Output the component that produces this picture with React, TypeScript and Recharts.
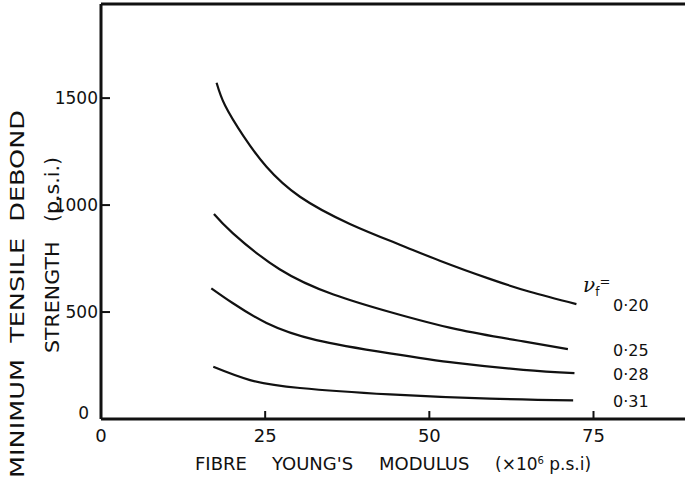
import React from 'react';
import { LineChart, Line, XAxis, YAxis, ReferenceLine } from 'recharts';

// Minimum tensile debond strength vs fibre Young's modulus, one curve per volume fraction
const xTicks = [0, 25, 50, 75];
const yTicks = [0, 500, 1000, 1500];
const vfLabels = ['0·20', '0·25', '0·28', '0·31'];

const vf20X = [17.6, 18.9, 21.7, 25.2, 30.3, 37.9, 45.5, 51.6, 59.2, 65.3, 72.4];
const vf20Y = [1572, 1465, 1322, 1179, 1039, 912, 815, 740, 655, 595, 537];

const vf25X = [17.2, 20.1, 27.2, 35.4, 44.0, 54.1, 64.3, 71.1];
const vf25Y = [958, 868, 700, 582, 500, 420, 363, 327];

const vf28X = [16.8, 20.1, 25.2, 32.8, 44.0, 54.1, 64.3, 72.1];
const vf28Y = [611, 541, 449, 369, 307, 262, 230, 214];

const vf31X = [17.1, 22.7, 30.3, 44.0, 59.2, 71.9];
const vf31Y = [244, 182, 145, 115, 95, 87];

const zip = (xs: number[], ys: number[]) => xs.map((x, i) => ({ x, y: ys[i] }));
const series = [zip(vf20X, vf20Y), zip(vf25X, vf25Y), zip(vf28X, vf28Y), zip(vf31X, vf31Y)];

const FONT = '"DejaVu Sans", sans-serif';
const INK = '#111';

const XTick = ({ x, y, payload }: any) => (
  <g>
    <text x={x} y={y + 10} dy="0.71em" textAnchor="middle" fontFamily={FONT} fontSize={18} fill={INK}>
      {payload.value}
    </text>
    {payload.value !== 0 && <line x1={x} x2={x} y1={y} y2={y - 8} stroke={INK} strokeWidth={2} />}
  </g>
);

const YTick = ({ x, y, payload }: any) => {
  const zero = payload.value === 0;
  return (
    <g>
      <text
        x={zero ? x - 12 : x - 3}
        y={zero ? y - 6 : y}
        dy="0.36em"
        textAnchor="end"
        fontFamily={FONT}
        fontSize={17}
        fill={INK}
      >
        {payload.value}
      </text>
      {!zero && <line x1={x} x2={x + 9} y1={y} y2={y} stroke={INK} strokeWidth={2} />}
    </g>
  );
};

const XTitle = () => (
  <g fontFamily={FONT} fontSize={18} fill={INK}>
    <text x={195} y={464} dy="0.36em">FIBRE</text>
    <text x={272} y={464} dy="0.36em">YOUNG'S</text>
    <text x={379} y={464} dy="0.36em">MODULUS</text>
    <text x={495} y={464} dy="0.36em" fontSize={17}>
      (×10<tspan dy={-6} fontSize={10}>6</tspan><tspan dy={6}> p.s.i)</tspan>
    </text>
  </g>
);

const YTitle = () => (
  <g fontFamily={FONT} fontSize={19} fill={INK}>
    <text x={17} y={294} dy="0.36em" textAnchor="middle" transform="rotate(-90 17 294)"
      textLength={368} lengthAdjust="spacingAndGlyphs" wordSpacing={6}>
      MINIMUM TENSILE DEBOND
    </text>
    <text x={52} y={255} dy="0.36em" textAnchor="middle" transform="rotate(-90 52 255)"
      textLength={196} lengthAdjust="spacingAndGlyphs" wordSpacing={12}>
      STRENGTH (p.s.i.)
    </text>
  </g>
);

const endLabel = (i: number) => (props: any) => {
  if (props.index !== series[i].length - 1) return null;
  return (
    <g fontFamily={FONT} fill={INK}>
      {i === 0 && (
        <text x={583} y={props.y - 12} fontSize={20}>
          <tspan fontStyle="italic" fontFamily='"DejaVu Serif", serif'>ν</tspan>
          <tspan fontSize={12} dy={4}>f</tspan>
          <tspan fontSize={13} dy={-10}>=</tspan>
        </text>
      )}
      <text x={613} y={props.y + 1} dy="0.36em" fontSize={16}>
        {vfLabels[i]}
      </text>
    </g>
  );
};

export default function App() {
  return (
    <div style={{ position: 'absolute', left: 0, top: 0, width: 685, height: 488, overflow: 'hidden', background: '#fff' }}>
      <LineChart width={700} height={488} margin={{ top: 4, right: 8, bottom: 0, left: 0 }}>
        <XAxis
          dataKey="x"
          type="number"
          domain={[0, 90]}
          ticks={xTicks}
          allowDataOverflow
          height={69}
          tickSize={0}
          tickMargin={0}
          tickLine={false}
          axisLine={{ stroke: INK, strokeWidth: 3 }}
          tick={<XTick />}
          label={<XTitle />}
        />
        <YAxis
          type="number"
          domain={[0, 1940]}
          ticks={yTicks}
          allowDataOverflow
          width={101}
          tickSize={0}
          tickMargin={0}
          tickLine={false}
          axisLine={{ stroke: INK, strokeWidth: 3 }}
          tick={<YTick />}
          label={<YTitle />}
        />
        <ReferenceLine y={1940} stroke={INK} strokeWidth={3} ifOverflow="visible" />
        {series.map((d, i) => (
          <Line
            key={vfLabels[i]}
            data={d}
            dataKey="y"
            type="natural"
            stroke={INK}
            strokeWidth={2.2}
            dot={false}
            label={endLabel(i)}
            isAnimationActive={false}
          />
        ))}
      </LineChart>
    </div>
  );
}
